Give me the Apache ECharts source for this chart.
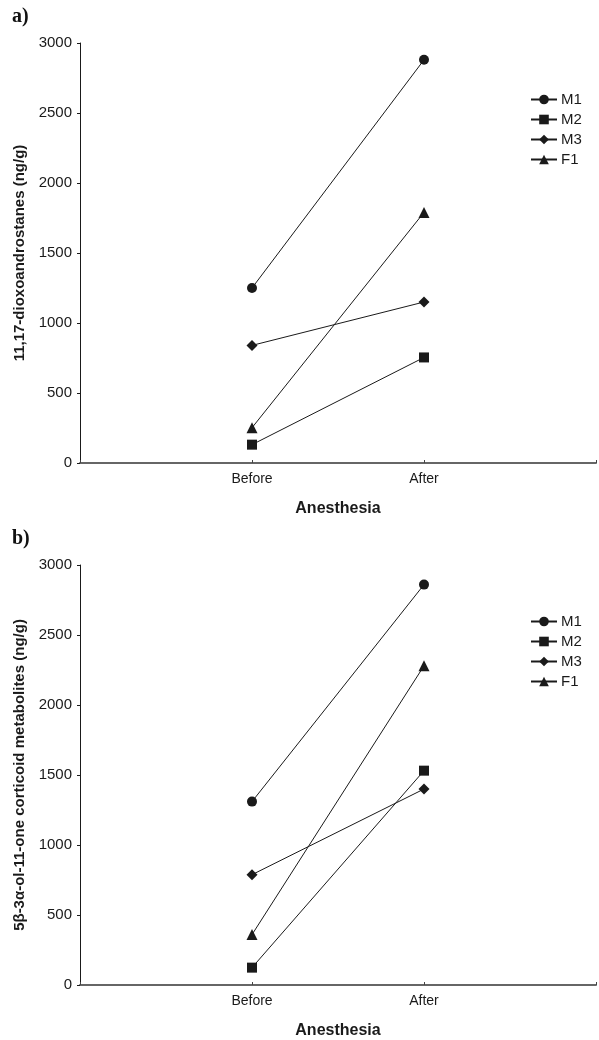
<!DOCTYPE html>
<html>
<head>
<meta charset="utf-8">
<script src="https://cdn.jsdelivr.net/npm/echarts@6/dist/echarts.min.js"></script>
<style>
  html, body { margin: 0; padding: 0; background: #fff; }
  #chart { width: 599px; height: 1040px; }
</style>
</head>
<body>
<div id="chart"></div>
<script>
// categories on the x axis (placed at 1 and 2 of a 0..3 axis)
const categories = ['Before', 'After'];
const seriesNames = ['M1', 'M2', 'M3', 'F1'];
const symbols = ['circle', 'rect', 'diamond', 'triangle'];

// a) 11,17-dioxoandrostanes (ng/g)
const dioxoBefore = [1250, 131, 840, 252];
const dioxoAfter = [2880, 754, 1150, 1790];

// b) 5b-3a-ol-11-one corticoid metabolites (ng/g)
const corticoidBefore = [1310, 124, 788, 360];
const corticoidAfter = [2860, 1531, 1400, 2280];

const font = 'Liberation Sans, Arial, Helvetica, sans-serif';
const ink = '#1a1a1a';

const chart = echarts.init(document.getElementById('chart'));

const makeX = (gridIndex) => ({
    type: 'value',
    gridIndex: gridIndex,
    min: 0,
    max: 3,
    interval: 1,
    name: 'Anesthesia',
    nameLocation: 'middle',
    nameGap: 38,
    nameTextStyle: { fontFamily: font, fontSize: 16, fontWeight: 'bold', color: ink },
    axisLine: { lineStyle: { color: '#666', width: 2 } },
    axisTick: { inside: true, length: 3, lineStyle: { color: '#444' } },
    splitLine: { show: false },
    axisLabel: {
        fontFamily: font, fontSize: 14, color: ink, margin: 9,
        formatter: v => categories[v - 1] || ''
    }
});

const makeY = (gridIndex, name) => ({
    type: 'value',
    gridIndex: gridIndex,
    min: 0,
    max: 3000,
    interval: 500,
    name: name,
    nameLocation: 'middle',
    nameGap: 36,
    nameTextStyle: { fontFamily: font, fontSize: 15, fontWeight: 'bold', color: ink },
    axisLine: { show: true, lineStyle: { color: ink, width: 1 } },
    axisTick: { show: true, length: 3, lineStyle: { color: ink } },
    splitLine: { show: false },
    axisLabel: { fontFamily: font, fontSize: 15, color: ink, margin: 8, formatter: v => String(v) }
});

const makeSeries = (gridIndex, before, after) => seriesNames.map((n, i) => ({
    name: n,
    type: 'line',
    xAxisIndex: gridIndex,
    yAxisIndex: gridIndex,
    symbol: symbols[i],
    symbolSize: symbols[i] === 'diamond' ? 11 : (symbols[i] === 'triangle' ? 11 : 10),
    showAllSymbol: true,
    animation: false,
    itemStyle: { color: ink },
    lineStyle: { color: ink, width: 1 },
    data: [[1, before[i]], [2, after[i]]]
}));

const makeLegend = (top) => ({
    data: seriesNames,
    orient: 'vertical',
    left: 525,
    top: top,
    itemWidth: 26,
    itemHeight: 12,
    itemGap: 5,
    selectedMode: false,
    textStyle: { fontFamily: font, fontSize: 15, color: ink, padding: [0, 0, 0, -1] }
});

const option = {
    backgroundColor: '#fff',
    animation: false,
    title: [
        { text: 'a)', left: 7, top: 2, textStyle: { fontFamily: 'Liberation Serif, Times New Roman, serif', fontSize: 20, fontWeight: 'bold', color: '#111' } },
        { text: 'b)', left: 7, top: 524, textStyle: { fontFamily: 'Liberation Serif, Times New Roman, serif', fontSize: 20, fontWeight: 'bold', color: '#111' } }
    ],
    legend: [makeLegend(87), makeLegend(609)],
    grid: [
        { left: 80, right: 0, top: 43, height: 420 },
        { left: 80, right: 0, top: 565, height: 420 }
    ],
    xAxis: [makeX(0), makeX(1)],
    yAxis: [
        makeY(0, '11,17-dioxoandrostanes (ng/g)'),
        makeY(1, '5β-3α-ol-11-one corticoid metabolites (ng/g)')
    ],
    series: [
        ...makeSeries(0, dioxoBefore, dioxoAfter),
        ...makeSeries(1, corticoidBefore, corticoidAfter)
    ]
};

chart.setOption(option);
</script>
</body>
</html>
